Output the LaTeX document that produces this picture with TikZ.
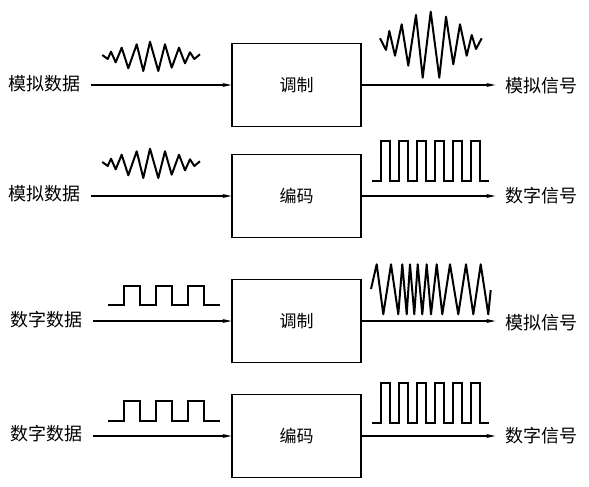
\documentclass[tikz,border=0pt]{standalone}
\usepackage{fontspec}
\newfontfamily\cjk{Noto Sans CJK SC}
\usetikzlibrary{arrows.meta}
\begin{document}
\begin{tikzpicture}[x=1pt,y=-1pt,
  lbl/.style={font=\cjk\fontsize{18}{20}\selectfont, inner ysep=0pt, inner xsep=10pt, anchor=center},
  blk/.style={draw, line width=1.2pt, minimum width=129pt, minimum height=83pt, inner sep=0pt, font=\cjk\fontsize{17}{20}\selectfont},
  arr/.style={line width=1.3pt, -{Stealth[length=9pt,width=4pt]}},
  wave/.style={line width=2pt, line join=round},
  sqwave/.style={line width=2pt, line join=miter}]
\useasboundingbox (0,0) rectangle (589,487);
\fill[white] (0,0) rectangle (589,487);

% row 1
\node[lbl] (in1) at (44.5,84) {模拟数据};
\node[blk] (b1) at (296.5,85) {调制};
\node[lbl] (out1) at (541.5,86) {模拟信号};
\draw[arr] (in1.east |- b1.west) -- (b1.west);
\draw[arr] (b1.east) -- (b1.east -| out1.west);

% row 2
\node[lbl] (in2) at (44.5,194) {模拟数据};
\node[blk] (b2) at (296.5,196) {编码};
\node[lbl] (out2) at (541.5,196) {数字信号};
\draw[arr] (in2.east |- b2.west) -- (b2.west);
\draw[arr] (b2.east) -- (b2.east -| out2.west);

% row 3
\node[lbl] (in3) at (46.5,319.5) {数字数据};
\node[blk] (b3) at (296.5,321) {调制};
\node[lbl] (out3) at (541.5,323) {模拟信号};
\draw[arr] (in3.east |- b3.west) -- (b3.west);
\draw[arr] (b3.east) -- (b3.east -| out3.west);

% row 4
\node[lbl] (in4) at (46.5,434) {数字数据};
\node[blk] (b4) at (296.5,436) {编码};
\node[lbl] (out4) at (541.5,436) {数字信号};
\draw[arr] (in4.east |- b4.west) -- (b4.west);
\draw[arr] (b4.east) -- (b4.east -| out4.west);

% analog input waves (rows 1 and 2)
\foreach \dy in {0,107}{
\begin{scope}[shift={(0,\dy)}]
\draw[wave] (102.3,55) -- (107.7,59) -- (111,51.7) -- (115.7,62.3) -- (121.7,47.7) -- (128.3,68.3) -- (136.7,44.3) -- (143.3,71) -- (150,41.7) -- (158.3,71) -- (165,44.3) -- (171.7,67.7) -- (179,47.7) -- (185,63.3) -- (190,52.3) -- (194.3,59) -- (200,54.3);
\end{scope}}

% analog output wave row 1
\draw[wave] (380,38.3) -- (386,50) -- (389.3,31) -- (395,55.7) -- (401.7,24.3) -- (408.3,65.7) -- (416,15) -- (422.7,77.7) -- (430.7,11.7) -- (439.3,77.7) -- (446,16.7) -- (453.3,64.3) -- (460,24.3) -- (466.7,55.7) -- (471.7,35) -- (476,49) -- (481.7,38.3);

% digital output waves (rows 2 and 4)
\foreach \dy in {0,242.5}{
\begin{scope}[shift={(0,\dy)}]
\draw[sqwave] (372,180.7) -- (381,180.7) -- (381,140.7) -- (390,140.7) -- (390,180.7) -- (399.3,180.7) -- (399.3,140.7) -- (407.7,140.7) -- (407.7,180.7) -- (416.7,180.7) -- (416.7,140.7) -- (425.7,140.7) -- (425.7,180.7) -- (435,180.7) -- (435,140.7) -- (444.3,140.7) -- (444.3,180.7) -- (453.3,180.7) -- (453.3,140.7) -- (462.3,140.7) -- (462.3,180.7) -- (471,180.7) -- (471,140.7) -- (480,140.7) -- (480,180.7) -- (489,180.7);
\end{scope}}

% digital input waves (rows 3 and 4)
\foreach \dy in {0,115.5}{
\begin{scope}[shift={(0,\dy)}]
\draw[sqwave] (108.3,305) -- (124.3,305) -- (124.3,285.7) -- (140,285.7) -- (140,305) -- (156,305) -- (156,285.7) -- (172.3,285.7) -- (172.3,305) -- (187.7,305) -- (187.7,285.7) -- (204,285.7) -- (204,305) -- (220,305);
\end{scope}}

% modulated output wave row 3
\draw[wave] (371,289) -- (376.7,264.3) -- (383.3,314.3) -- (391,264.3) -- (398.3,314.3) -- (402.3,264.3) -- (406.7,314.3) -- (410,264.3) -- (414.3,314.3) -- (417.7,264.3) -- (422.3,314.3) -- (426.7,264.3) -- (431,314.3) -- (436.7,264.3) -- (442.3,314.3) -- (450,264.3) -- (458.3,314.3) -- (466,264.3) -- (473.3,314.3) -- (480.7,264.3) -- (488.3,314.3) -- (490.7,290);
\end{tikzpicture}
\end{document}
